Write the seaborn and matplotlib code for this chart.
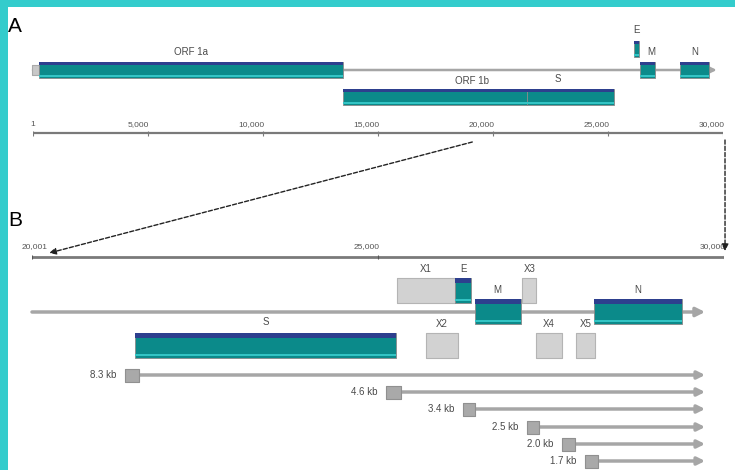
import numpy as np
import pandas as pd
import matplotlib
matplotlib.use('Agg')
import matplotlib.pyplot as plt
import seaborn as sns
from matplotlib.patches import Rectangle, ConnectionPatch

# ---- data (genome positions, nt) ----
genome_end = 29727
utr5 = (1, 265)

a_genes = ['ORF 1a', 'ORF 1b', 'S', 'E', 'M', 'N']
a_start = [265, 13468, 21492, 26117, 26398, 28120]
a_end = [13483, 21485, 25259, 26347, 27063, 29388]
a_track = [0, 1, 1, -1, 0, 0]          # 0 = on genome line, 1 = below, -1 = above

a_ticks = [1, 5000, 10000, 15000, 20000, 25000, 30000]
a_ticklabels = ['1', '5,000', '10,000', '15,000', '20,000', '25,000', '30,000']

b_genes = ['S', 'X1', 'E', 'X2', 'M', 'X3', 'X4', 'X5', 'N']
b_start = [21492, 25268, 26117, 25689, 26398, 27086, 27285, 27868, 28120]
b_end = [25259, 26117, 26347, 26157, 27063, 27290, 27661, 28140, 29388]
b_track = [1, -1, -1, 1, 0, -1, 1, 1, 0]
b_known = [True, False, True, False, True, False, False, False, True]

b_ticks = [20001, 25000, 30000]
b_ticklabels = ['20,001', '25,000', '30,000']

mrna_sizes = ['8.3 kb', '4.6 kb', '3.4 kb', '2.5 kb', '2.0 kb', '1.7 kb']
leader_start = [21345, 25117, 26230, 27154, 27660, 27992]
leader_end = [21547, 25333, 26403, 27327, 27848, 28180]

# ---- style ----
sns.set_theme(style='white')
plt.rcParams['font.family'] = ['Liberation Sans', 'DejaVu Sans']

W, H = 735, 470
teal_border = '#33cccc'
teal = '#0b8a8a'
navy = '#2d3f8e'
cyan = '#33c4c4'
txt = '#4a4a4a'
line_grey = '#a6a6a6'

fig = plt.figure(figsize=(W / 100, H / 100), dpi=100)


def px_axes(x0, x1, y0, y1):
    ax = fig.add_axes([x0 / W, 1 - y1 / H, (x1 - x0) / W, (y1 - y0) / H])
    ax.set_ylim(y1, y0)
    ax.axis('off')
    ax.patch.set_visible(False)
    return ax


def gene_box(ax, s, e, ytop, h):
    ax.broken_barh([(s, e - s)], (ytop, h), facecolors=teal,
                   edgecolors='#8a8a8a', linewidth=0.6, clip_on=False, zorder=5)
    ax.broken_barh([(s, e - s)], (ytop, h * 0.2), facecolors=navy,
                   linewidth=0, clip_on=False, zorder=6)
    ax.broken_barh([(s, e - s)], (ytop + h * 0.84, h * 0.09), facecolors=cyan,
                   linewidth=0, clip_on=False, zorder=6)


def grey_box(ax, s, e, ytop, h, fc='#d2d2d2', ec='#b4b4b4'):
    ax.broken_barh([(s, e - s)], (ytop, h), facecolors=fc,
                   edgecolors=ec, linewidth=0.8, clip_on=False, zorder=5)


# ---- panel A ----
axA = px_axes(33, 723, 0, 200)
axA.set_xlim(1, 30000)
lineA = 70
hA = 16
axA.annotate('', xy=(genome_end, lineA), xytext=(0, lineA),
             arrowprops=dict(arrowstyle='-|>', color=line_grey, lw=1.8,
                             mutation_scale=9, shrinkA=0, shrinkB=0),
             annotation_clip=False, zorder=2)
grey_box(axA, utr5[0] - 60, utr5[1], lineA - 5, 10, fc='#c8c8c8', ec='#aaaaaa')

rowA = {0: lineA - hA / 2, 1: 89, -1: 41}
for g, s, e, t in zip(a_genes, a_start, a_end, a_track):
    gene_box(axA, s, e, rowA[t], hA)

axA.text((a_start[0] + a_end[0]) / 2, 52, 'ORF 1a', ha='center', va='center',
         fontsize=7, color=txt)
axA.text(19100, 81, 'ORF 1b', ha='center', va='center', fontsize=7, color=txt)
axA.text(22800, 79, 'S', ha='center', va='center', fontsize=7, color=txt)
axA.text((a_start[3] + a_end[3]) / 2, 30, 'E', ha='center', va='center',
         fontsize=7, color=txt)
axA.text(26900, 52, 'M', ha='center', va='center', fontsize=7, color=txt)
axA.text((a_start[5] + a_end[5]) / 2, 52, 'N', ha='center', va='center',
         fontsize=7, color=txt)

axisA = 133
axA.hlines(axisA, a_ticks[0], a_ticks[-1], color='#7a7a7a', lw=1.6)
axA.vlines(a_ticks, axisA - 2, axisA + 3, color='#7a7a7a', lw=0.8)
for t, lab in zip(a_ticks, a_ticklabels):
    axA.annotate(lab, (t, 125), xytext=(0 if t == 1 else 1, 0),
                 textcoords='offset points', ha='center' if t == 1 else 'right',
                 va='center', fontsize=6, color='#555555', annotation_clip=False)

# ---- panel B ----
axB = px_axes(32, 724, 200, 470)
axB.set_xlim(20001, 30000)
axisB = 257
axB.hlines(axisB, b_ticks[0], b_ticks[-1], color='#7a7a7a', lw=2)
axB.vlines(b_ticks, axisB - 2, axisB + 2, color='#555555', lw=0.8)
for t, lab in zip(b_ticks, b_ticklabels):
    axB.annotate(lab, (t, 247), xytext=(2 if t == 20001 else 1, 0),
                 textcoords='offset points',
                 ha='center' if t == 20001 else 'right',
                 va='center', fontsize=6, color='#555555', annotation_clip=False)

lineB = 312
hB = 25
axB.annotate('', xy=(genome_end, lineB), xytext=(20001, lineB),
             arrowprops=dict(arrowstyle='-|>', color=line_grey, lw=2.5,
                             mutation_scale=13, shrinkA=0, shrinkB=0),
             annotation_clip=False, zorder=2)

rowB = {-1: 278, 0: 299, 1: 333}
for g, s, e, t, k in zip(b_genes, b_start, b_end, b_track, b_known):
    if k:
        gene_box(axB, s, e, rowB[t], hB)
    else:
        grey_box(axB, s, e, rowB[t], hB)
    ly = rowB[t] - 9 if g != 'S' else 322
    axB.text((s + e) / 2, ly, g, ha='center', va='center', fontsize=7,
             color=txt, zorder=7)

# subgenomic mRNAs
mrna_y = [375, 392, 409, 427, 444, 461]
for lab, s, e, y in zip(mrna_sizes, leader_start, leader_end, mrna_y):
    axB.annotate('', xy=(genome_end, y), xytext=(e, y),
                 arrowprops=dict(arrowstyle='-|>', color=line_grey, lw=2.5,
                                 mutation_scale=11, shrinkA=0, shrinkB=0),
                 annotation_clip=False, zorder=2)
    grey_box(axB, s, e, y - 6.5, 13, fc='#a9a9a9', ec='#909090')
    axB.annotate(lab, (s, y), xytext=(-6, 0), textcoords='offset points',
                 ha='right', va='center', fontsize=7, color=txt,
                 annotation_clip=False)

# zoom connectors between the two maps
con1 = ConnectionPatch(xyA=(19100, 142), coordsA=axA.transData,
                       xyB=(20250, 253), coordsB=axB.transData,
                       arrowstyle='-|>', linestyle=(0, (3, 1.5)), color='#222222',
                       lw=1, mutation_scale=10)
con2 = ConnectionPatch(xyA=(30087, 140), coordsA=axA.transData,
                       xyB=(30015, 251), coordsB=axB.transData,
                       arrowstyle='-|>', linestyle=(0, (3, 1.5)), color='#222222',
                       lw=1, mutation_scale=10)
fig.add_artist(con1)
fig.add_artist(con2)

# panel letters and border
fig.text(8 / W, 1 - 26 / H, 'A', fontsize=15, color='black', va='center')
fig.text(8 / W, 1 - 220 / H, 'B', fontsize=15, color='black', va='center')
fig.add_artist(Rectangle((0, 0), 8 / W, 1, transform=fig.transFigure,
                         color=teal_border, lw=0))
fig.add_artist(Rectangle((0, 1 - 7 / H), 1, 7 / H, transform=fig.transFigure,
                         color=teal_border, lw=0))

fig.savefig('out.png', dpi=100, facecolor='white')
